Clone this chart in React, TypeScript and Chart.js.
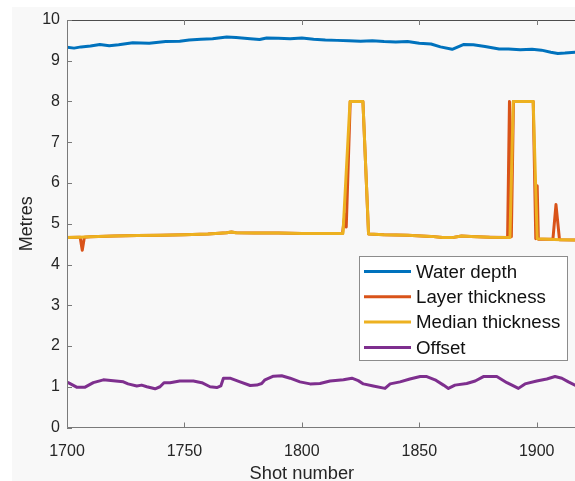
import { useEffect, useRef } from 'react';
import { Chart, registerables } from 'chart.js';

Chart.register(...registerables);

const FONT = "'Liberation Sans', Arial, Helvetica, sans-serif";

// ---- data ----
const seriesLabels = ['Water depth', 'Layer thickness', 'Median thickness', 'Offset'];
const seriesColors = ['#0072BD', '#D95319', '#EDB120', '#7E2F8E'];

const xTickValues = [1700, 1750, 1800, 1850, 1900];
const yTickValues = [0, 1, 2, 3, 4, 5, 6, 7, 8, 9, 10];
const xAxisTitle = 'Shot number';
const yAxisTitle = 'Metres';

const waterShots = [1700, 1703, 1706, 1710, 1714, 1718, 1722, 1728, 1735, 1742, 1748, 1752, 1757, 1762, 1768, 1772, 1778, 1782, 1785, 1790, 1795, 1800, 1805, 1810, 1815, 1820, 1825, 1830, 1835, 1840, 1845, 1850, 1855, 1859, 1864, 1869, 1873, 1878, 1884, 1888, 1893, 1898, 1902, 1906, 1909, 1912, 1916.3];
const waterDepth = [9.33, 9.31, 9.34, 9.36, 9.40, 9.37, 9.39, 9.44, 9.43, 9.47, 9.48, 9.51, 9.53, 9.54, 9.58, 9.57, 9.54, 9.52, 9.56, 9.55, 9.54, 9.56, 9.53, 9.51, 9.50, 9.49, 9.48, 9.49, 9.47, 9.46, 9.47, 9.43, 9.41, 9.34, 9.28, 9.40, 9.39, 9.35, 9.29, 9.29, 9.27, 9.28, 9.26, 9.21, 9.18, 9.19, 9.21];

const layerShots = [1700, 1705, 1705.6, 1706.5, 1707.4, 1710, 1720, 1730, 1740, 1750, 1760, 1768, 1770, 1772, 1780, 1790, 1800, 1810, 1817.3, 1818.3, 1818.9, 1820.6, 1826, 1828.4, 1835, 1845, 1855, 1860, 1864, 1868, 1872, 1880, 1887.6, 1888.4, 1889.2, 1890.1, 1898.5, 1899.6, 1900.2, 1900.7, 1905, 1906.9, 1908.2, 1909.7, 1916.3];
const layerThickness = [4.66, 4.67, 4.67, 4.35, 4.67, 4.68, 4.70, 4.71, 4.72, 4.73, 4.75, 4.78, 4.80, 4.78, 4.77, 4.77, 4.76, 4.76, 4.76, 5.22, 4.92, 8.0, 8.0, 4.75, 4.73, 4.72, 4.69, 4.66, 4.66, 4.70, 4.69, 4.67, 4.66, 8.0, 4.68, 8.0, 8.0, 4.63, 5.93, 4.62, 4.62, 4.62, 5.47, 4.61, 4.60];

const medianShots = [1700, 1705, 1710, 1720, 1730, 1740, 1750, 1760, 1768, 1770, 1772, 1780, 1790, 1800, 1810, 1817.5, 1820.5, 1826, 1828.4, 1835, 1845, 1855, 1860, 1864, 1868, 1872, 1880, 1888.6, 1890, 1898.5, 1900.2, 1905, 1910, 1916.3];
const medianThickness = [4.66, 4.67, 4.68, 4.70, 4.71, 4.72, 4.73, 4.75, 4.78, 4.80, 4.78, 4.77, 4.77, 4.76, 4.76, 4.76, 8.0, 8.0, 4.75, 4.73, 4.72, 4.69, 4.66, 4.66, 4.70, 4.69, 4.67, 4.66, 8.0, 8.0, 4.63, 4.62, 4.61, 4.60];

const offsetShots = [1700.5, 1704.1, 1707.7, 1711.2, 1715.5, 1719.7, 1724, 1726, 1729.7, 1731.8, 1734, 1737.5, 1739.6, 1741.3, 1743.9, 1748, 1753.8, 1757.4, 1760.9, 1763.8, 1765.5, 1766.6, 1769.4, 1773.7, 1778, 1780.8, 1782.9, 1784.3, 1787.9, 1791.4, 1795, 1799.2, 1803.5, 1807.7, 1812, 1817.7, 1821.3, 1824, 1826.2, 1830.4, 1835.4, 1837.6, 1841.8, 1846, 1850.4, 1853.2, 1856.7, 1860.3, 1862.4, 1865.2, 1870.2, 1873.8, 1877.3, 1883, 1887.3, 1890.1, 1892.2, 1895, 1900, 1904.3, 1907.8, 1910.7, 1913.5, 1916.3];
const offsetValues = [1.10, 0.99, 0.99, 1.10, 1.17, 1.15, 1.12, 1.07, 1.02, 1.04, 1.00, 0.95, 1.00, 1.10, 1.10, 1.14, 1.14, 1.10, 1.00, 0.98, 1.02, 1.21, 1.21, 1.12, 1.03, 1.04, 1.08, 1.17, 1.26, 1.27, 1.21, 1.12, 1.07, 1.08, 1.14, 1.17, 1.21, 1.15, 1.07, 1.02, 0.96, 1.07, 1.12, 1.19, 1.25, 1.25, 1.17, 1.04, 0.96, 1.04, 1.08, 1.14, 1.25, 1.25, 1.10, 1.02, 0.96, 1.07, 1.14, 1.19, 1.25, 1.21, 1.12, 1.04];

const X_MIN = 1700;
const X_MAX = 1916.3;
const Y_MIN = 0;
const Y_MAX = 10;

const toXY = (xs: number[], ys: number[]) => xs.map((x, i) => ({ x, y: ys[i] }));

const backgroundPlugin = {
  id: 'bgPanel',
  beforeDraw(chart: any) {
    const { ctx, width, height } = chart;
    ctx.save();
    ctx.fillStyle = '#ffffff';
    ctx.fillRect(0, 0, width, height);
    ctx.fillStyle = '#f8f8f8';
    ctx.fillRect(12, 7, width - 12, height - 7);
    ctx.restore();
  },
};

const axesPlugin = {
  id: 'matlabAxes',
  afterDatasetsDraw(chart: any) {
    const { ctx, chartArea } = chart;
    const xs = chart.scales.x;
    const ys = chart.scales.y;
    const { left, right, top, bottom } = chartArea;
    ctx.save();
    ctx.lineWidth = 1;
    ctx.strokeStyle = '#4d4d4d';
    ctx.beginPath();
    ctx.moveTo(left, top + 0.5);
    ctx.lineTo(right, top + 0.5);
    ctx.stroke();
    ctx.strokeStyle = '#7a7a7a';
    ctx.beginPath();
    ctx.moveTo(left + 0.5, top);
    ctx.lineTo(left + 0.5, bottom);
    ctx.lineTo(right, bottom);
    ctx.stroke();
    const tl = 5;
    ctx.beginPath();
    xTickValues.forEach((v) => {
      const px = Math.round(xs.getPixelForValue(v)) + 0.5;
      ctx.moveTo(px, bottom);
      ctx.lineTo(px, bottom - tl);
      ctx.moveTo(px, top);
      ctx.lineTo(px, top + tl);
    });
    yTickValues.forEach((v) => {
      const py = Math.round(ys.getPixelForValue(v)) + 0.5;
      ctx.moveTo(left, py);
      ctx.lineTo(left + tl, py);
    });
    ctx.stroke();
    // x axis title (centred under the 1700-1900 span, as in the source figure)
    const cx = (xs.getPixelForValue(xTickValues[0]) + xs.getPixelForValue(xTickValues[xTickValues.length - 1])) / 2;
    ctx.font = `18.3px ${FONT}`;
    ctx.fillStyle = '#262626';
    ctx.textAlign = 'center';
    ctx.textBaseline = 'alphabetic';
    ctx.fillText(xAxisTitle, cx, 478.5);
    ctx.restore();
  },
};

const legendPlugin = {
  id: 'insideLegend',
  afterDraw(chart: any) {
    const { ctx } = chart;
    const boxX = 359.5;
    const boxY = 256.5;
    const boxW = 208;
    const boxH = 104;
    ctx.save();
    ctx.fillStyle = '#ffffff';
    ctx.fillRect(boxX, boxY, boxW, boxH);
    ctx.strokeStyle = '#8c8c8c';
    ctx.lineWidth = 1;
    ctx.strokeRect(boxX, boxY, boxW, boxH);
    const rowH = 25.3;
    const firstY = 271.5;
    ctx.font = `18.7px ${FONT}`;
    ctx.textBaseline = 'middle';
    ctx.textAlign = 'left';
    chart.data.datasets.forEach((ds: any, i: number) => {
      const y = firstY + i * rowH;
      ctx.strokeStyle = ds.borderColor;
      ctx.lineWidth = 3;
      ctx.beginPath();
      ctx.moveTo(364, y);
      ctx.lineTo(411, y);
      ctx.stroke();
      ctx.fillStyle = '#111111';
      ctx.fillText(ds.label, 416, y + 1);
    });
    ctx.restore();
  },
};

export default function App() {
  const ref = useRef<HTMLCanvasElement>(null);

  useEffect(() => {
    if (!ref.current) return;
    const common = {
      pointRadius: 0,
      borderWidth: 3,
      tension: 0,
      borderJoinStyle: 'round' as const,
      borderCapStyle: 'round' as const,
      fill: false,
    };
    const chart = new Chart(ref.current, {
      type: 'line',
      data: {
        datasets: [
          { ...common, label: seriesLabels[0], data: toXY(waterShots, waterDepth), borderColor: seriesColors[0], order: 0 },
          { ...common, label: seriesLabels[1], data: toXY(layerShots, layerThickness), borderColor: seriesColors[1], order: 2 },
          { ...common, label: seriesLabels[2], data: toXY(medianShots, medianThickness), borderColor: seriesColors[2], order: 1 },
          { ...common, label: seriesLabels[3], data: toXY(offsetShots, offsetValues), borderColor: seriesColors[3], order: 0 },
        ],
      },
      options: {
        responsive: false,
        animation: false,
        devicePixelRatio: 1,
        layout: { padding: { top: 20, left: 0, right: 0, bottom: 0 } },
        plugins: {
          legend: { display: false },
          tooltip: { enabled: false },
        },
        scales: {
          x: {
            type: 'linear',
            min: X_MIN,
            max: X_MAX,
            afterBuildTicks: (s: any) => {
              s.ticks = xTickValues.map((v) => ({ value: v }));
            },
            afterFit: (s: any) => {
              s.height = 53.5;
            },
            grid: { display: false, drawTicks: false },
            border: { display: false },
            ticks: {
              font: { family: FONT, size: 16 },
              color: '#262626',
              padding: 14,
              maxRotation: 0,
              autoSkip: false,
              callback: (v: any) => String(v),
            },
            title: { display: false },
          },
          y: {
            type: 'linear',
            min: Y_MIN,
            max: Y_MAX,
            afterBuildTicks: (s: any) => {
              s.ticks = yTickValues.map((v) => ({ value: v }));
            },
            afterFit: (s: any) => {
              s.width = 67;
            },
            grid: { display: false, drawTicks: false },
            border: { display: false },
            ticks: {
              font: { family: FONT, size: 16 },
              color: '#262626',
              padding: 7,
              autoSkip: false,
              callback: (v: any) => String(v),
            },
            title: {
              display: true,
              text: yAxisTitle,
              font: { family: FONT, size: 18, lineHeight: 1.2 },
              color: '#262626',
              padding: { top: 16, bottom: 0 },
            },
          },
        },
      },
      plugins: [backgroundPlugin, axesPlugin, legendPlugin],
    });
    return () => chart.destroy();
  }, []);

  return (
    <div style={{ position: 'absolute', left: 0, top: 0, width: 575, height: 481 }}>
      <canvas ref={ref} width={575} height={481} style={{ display: 'block', width: 575, height: 481 }} />
    </div>
  );
}
